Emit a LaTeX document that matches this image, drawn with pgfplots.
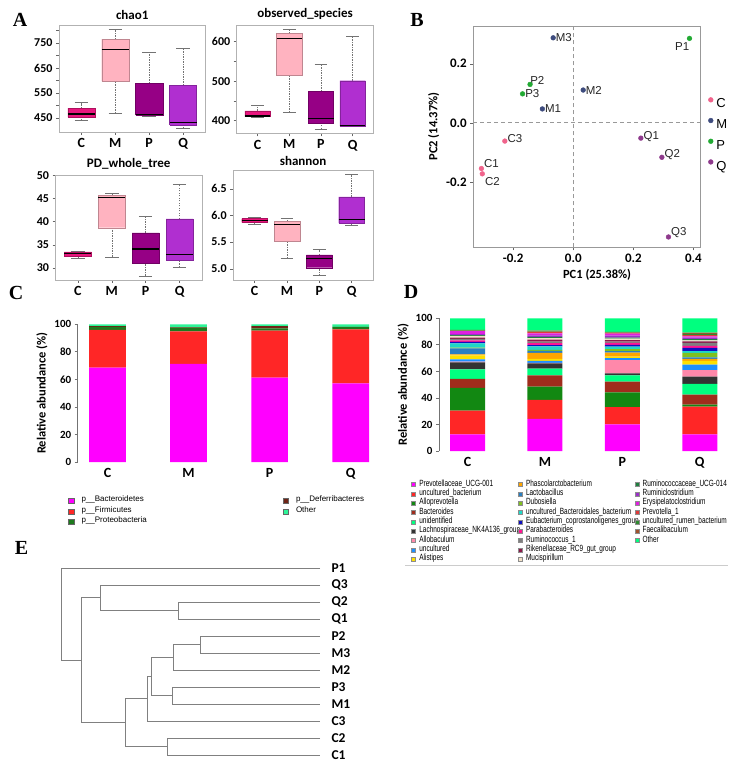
\documentclass[border=0pt]{standalone}
\usepackage{fontspec}
\setmainfont{Carlito}
\newfontfamily\arial{Liberation Sans}
\newfontfamily\tnr{Liberation Serif}
\usepackage{graphicx}
\usepackage{pgfplots}
\usepackage{pgfplotstable}
\pgfplotsset{compat=1.18}
\pgfplotsset{/pgf/number format/assume math mode=true}

% box plot colours (A)
\definecolor{cC}{HTML}{E8167E}
\definecolor{cM}{HTML}{FFB3C0}
\definecolor{cP}{HTML}{960085}
\definecolor{cQ}{HTML}{B02FD0}
% PCoA colours (B)
\definecolor{bC}{HTML}{F0648C}
\definecolor{bM}{HTML}{3E4C7E}
\definecolor{bP}{HTML}{22AA33}
\definecolor{bQ}{HTML}{8E3A8C}
% phylum colours (C)
\definecolor{p1}{HTML}{FF00FF}
\definecolor{p2}{HTML}{FF2626}
\definecolor{p3}{HTML}{1D7A1D}
\definecolor{p4}{HTML}{6E2416}
\definecolor{p5}{HTML}{2EF598}
% genus colours (D)
\definecolor{d1}{HTML}{FF00FF}
\definecolor{d2}{HTML}{FF2626}
\definecolor{d3}{HTML}{128812}
\definecolor{d4}{HTML}{A02C1C}
\definecolor{d5}{HTML}{00FF80}
\definecolor{d6}{HTML}{333333}
\definecolor{d7}{HTML}{FF88AA}
\definecolor{d8}{HTML}{1E90FF}
\definecolor{d9}{HTML}{FFE000}
\definecolor{d10}{HTML}{FFA500}
\definecolor{d11}{HTML}{2A7FC0}
\definecolor{d12}{HTML}{80C020}
\definecolor{d13}{HTML}{1ED8C8}
\definecolor{d14}{HTML}{1010C0}
\definecolor{d15}{HTML}{FF1493}
\definecolor{d16}{HTML}{7F7F7F}
\definecolor{d17}{HTML}{8B1A4A}
\definecolor{d18}{HTML}{F3E2C8}
\definecolor{d19}{HTML}{1F7F3F}
\definecolor{d20}{HTML}{9A30C8}
\definecolor{d21}{HTML}{E020E0}
\definecolor{d22}{HTML}{E03A3A}
\definecolor{d23}{HTML}{2E8B2E}
\definecolor{d24}{HTML}{A0522D}
\definecolor{d25}{HTML}{00FF7F}

% phylum level relative abundance (%)
\pgfplotstableread{
x Bac Fir Pro Def Oth
1 68.5 27.4 2.2 0.5 1.4
2 71.2 23.7 2.7 0.4 2.0
3 61.3 34.1 1.6 1.6 1.4
4 57.1 39.3 1.5 0.3 1.8
}\tabC

% genus level relative abundance (%)
\pgfplotstableread{
x g1 g2 g3 g4 g5 g6 g7 g8 g9 g10 g11 g12 g13 g14 g15 g16 g17 g18 g19 g20 g21 g22 g23 g24 g25
1 12.5 18.0 17.0 6.8 7.2 5.2 0.6 1.8 3.0 0.8 4.5 0.5 3.2 1.2 1.0 1.2 1.0 1.2 0.6 0.8 2.2 0.3 0.3 0.3 8.8
2 24.2 14.3 10.0 8.5 5.0 4.0 0.5 1.5 1.5 4.5 1.5 0.8 2.5 1.0 1.5 1.2 1.5 1.0 1.0 1.2 1.5 0.8 0.5 0.8 9.2
3 20.0 13.0 11.2 8.0 4.8 1.5 10.0 1.5 1.2 3.0 1.0 1.5 2.0 1.2 1.5 1.0 1.2 1.0 0.8 1.5 1.5 0.5 0.3 0.5 10.3
4 12.5 21.0 1.5 7.5 8.0 5.5 5.0 4.0 3.0 1.5 1.0 3.5 1.2 2.5 1.5 2.2 1.2 0.8 1.0 1.0 1.0 1.0 0.8 1.0 10.8
}\tabD

\pgfplotsset{
  abox/.style={
    scale only axis, anchor=south west,
    xmin=0.34, xmax=4.66, xtick={1,2,3,4}, xticklabels={C,M,P,Q},
    axis line style={black!30, line width=0.6pt},
    tick align=outside, tick pos=left,
    major tick length=3pt, minor tick length=3pt,
    every tick/.style={black!60, line width=0.5pt},
    xticklabel style={font=\bfseries\fontsize{14}{14}\selectfont},
    yticklabel style={font=\bfseries\fontsize{12}{12}\selectfont},
    title style={font=\bfseries\fontsize{13}{13}\selectfont, yshift=-4pt},
  },
  barax/.style={
    scale only axis, anchor=south west, ybar stacked,
    ymin=0, ymax=100, ytick={0,20,...,100},
    xtick={1,2,3,4}, xticklabels={C,M,P,Q},
    axis x line=bottom, axis y line=left, axis line style={-},
    x axis line style={draw=none}, y axis line style={black!55, line width=0.8pt},
    xtick style={draw=none}, ytick style={black!55, line width=0.8pt},
    tick align=outside, major tick length=3pt,
    xticklabel style={font=\bfseries\fontsize{14}{14}\selectfont},
    yticklabel style={font=\bfseries\fontsize{11}{11}\selectfont},
    ylabel={Relative abundance (\%)},
    ylabel style={font=\bfseries\fontsize{12.5}{12.5}\selectfont},
    clip=false,
  },
  legd/.style={
    hide axis, scale only axis, width=4pt, height=4pt,
    xmin=0, xmax=1, ymin=0, ymax=1, anchor=north west,
    legend cell align=left,
    legend style={at={(0,1)}, anchor=north west, draw=none, fill=none,
      inner sep=0pt, row sep=0pt,
      font=\arial\fontsize{9}{9}\selectfont,
      nodes={inner sep=0pt, text height=6.3pt, text depth=3.03pt},
      /tikz/every odd column/.append style={column sep=3.6pt}},
    legend image code/.code={\draw[##1, draw=black!45, line width=0.3pt] (0pt,-2.1pt) rectangle (4.2pt,2.1pt);},
  },
  legc/.style={
    hide axis, scale only axis, width=4pt, height=4pt,
    xmin=0, xmax=1, ymin=0, ymax=1, anchor=north west,
    legend cell align=left,
    legend style={at={(0,1)}, anchor=north west, draw=none, fill=none,
      inner sep=0pt, row sep=0pt,
      font=\arial\fontsize{8}{8}\selectfont,
      nodes={inner sep=0pt, text height=6pt, text depth=4.5pt},
      /tikz/every odd column/.append style={column sep=7.5pt}},
    legend image code/.code={\draw[##1, draw=black!60, line width=0.4pt] (0pt,-2.7pt) rectangle (5.4pt,2.7pt);},
  },
  whisk/.style={black!55, line width=0.5pt, dash pattern=on 1.4pt off 1.1pt},
}

% one box: colour, position, lower whisker, lower quartile, median, upper quartile, upper whisker
\newcommand{\bx}[7]{%
  \addplot[whisk] table[row sep=\\, x expr=\thisrowno{0}+#2] {0 #3\\ 0 #4\\};
  \addplot[whisk] table[row sep=\\, x expr=\thisrowno{0}+#2] {0 #6\\ 0 #7\\};
  \addplot[black!55, line width=0.5pt] table[row sep=\\, x expr=\thisrowno{0}+#2] {-0.2 #3\\ 0.2 #3\\};
  \addplot[black!55, line width=0.5pt] table[row sep=\\, x expr=\thisrowno{0}+#2] {-0.2 #7\\ 0.2 #7\\};
  \addplot[fill=#1, draw=#1!75!black, line width=0.4pt] table[row sep=\\, x expr=\thisrowno{0}+#2]
    {-0.4 #4\\ 0.4 #4\\ 0.4 #6\\ -0.4 #6\\ -0.4 #4\\};
  \addplot[black, line width=1.3pt] table[row sep=\\, x expr=\thisrowno{0}+#2] {-0.4 #5\\ 0.4 #5\\};
}

\begin{document}
\begin{tikzpicture}
\path[use as bounding box] (0pt,0pt) rectangle (740pt,-775pt);

% panel letters
\begin{scope}[every node/.style={font=\tnr\bfseries\fontsize{20}{20}\selectfont}]
\node at (20pt,-20pt) {A};
\node at (417pt,-20pt) {B};
\node at (16pt,-293pt) {C};
\node at (411pt,-292pt) {D};
\node at (21.5pt,-548pt) {E};
\end{scope}

% ---------------- A: alpha diversity ----------------
\begin{axis}[abox, at={(59pt,-132pt)}, width=146.5pt, height=107pt,
  ymin=394, ymax=822, ytick={450,550,650,750}, minor ytick={500,600,700,800},
  title={chao1}]
\bx{cC}{1}{439}{453}{466}{489}{511}
\bx{cM}{2}{469}{598}{725}{765}{805}
\bx{cP}{3}{455}{462}{465}{589}{713}
\bx{cQ}{4}{409}{422}{433}{581}{729}
\end{axis}

\begin{axis}[abox, at={(236.7pt,-133.3pt)}, width=136.8pt, height=108.3pt,
  ymin=368, ymax=642, ytick={400,500,600}, minor ytick={450,550},
  title={observed\_species}]
\bx{cC}{1}{408}{410}{412}{425}{440}
\bx{cM}{2}{421}{514}{607}{620}{630}
\bx{cP}{3}{379}{393}{406}{475}{543.5}
\bx{cQ}{4}{387}{387}{387.5}{501}{614}
\end{axis}

\begin{axis}[abox, at={(55.5pt,-280pt)}, width=146.5pt, height=105pt,
  ymin=27.4, ymax=50.1, ytick={30,35,40,45,50},
  title={PD\_whole\_tree}]
\bx{cC}{1}{32.2}{32.6}{33.1}{33.5}{33.7}
\bx{cM}{2}{32.4}{38.7}{45.2}{45.7}{46.2}
\bx{cP}{3}{28.3}{31.1}{34.1}{37.6}{41.1}
\bx{cQ}{4}{30.2}{31.6}{32.9}{40.6}{48.2}
\end{axis}

\begin{axis}[abox, at={(233.3pt,-280pt)}, width=139.7pt, height=109.3pt,
  ymin=4.79, ymax=6.84, ytick={5,5.5,6,6.5},
  yticklabel style={/pgf/number format/.cd, fixed, fixed zerofill, precision=1},
  title={shannon}]
\bx{cC}{1}{5.83}{5.87}{5.906}{5.94}{5.97}
\bx{cM}{2}{5.20}{5.51}{5.83}{5.895}{5.94}
\bx{cP}{3}{4.87}{5.02}{5.19}{5.26}{5.36}
\bx{cQ}{4}{5.81}{5.86}{5.92}{6.35}{6.78}
\end{axis}

% ---------------- B: PCoA ----------------
\begin{axis}[scale only axis, anchor=south west, at={(473.3pt,-247.3pt)},
  width=226.7pt, height=221.3pt,
  xmin=-0.333, xmax=0.422, ymin=-0.422, ymax=0.328,
  xtick={-0.2,0,0.2,0.4}, ytick={-0.2,0,0.2},
  axis line style={black!40, line width=0.8pt},
  tick align=outside, tick pos=left, major tick length=3pt,
  every tick/.style={black!60, line width=0.5pt},
  ticklabel style={font=\bfseries\fontsize{13}{13}\selectfont,
    /pgf/number format/.cd, fixed, fixed zerofill, precision=1},
  xlabel={PC1 (25.38\%)}, ylabel={PC2 (14.37\%)},
  label style={font=\bfseries\fontsize{12.5}{12.5}\selectfont},
  xlabel style={at={(ticklabel cs:0.546)}},
  ylabel style={at={(ticklabel cs:0.546)}},
  clip=false,
  legend style={at={(1.022,0.688)}, anchor=north west, draw=none, fill=none,
    font=\arial\fontsize{13}{13}\selectfont, row sep=10pt,
    nodes={inner sep=0pt, text height=9pt, text depth=0pt},
    /tikz/every odd column/.append style={column sep=3pt}},
  legend cell align=left,
  legend image code/.code={\fill[#1] (2.4pt,3.6pt) circle[radius=2.4pt];},
]
\addplot[forget plot, black!40, dash pattern=on 4pt off 3pt, line width=0.6pt] coordinates {(0,-0.422) (0,0.328)};
\addplot[forget plot, black!40, dash pattern=on 4pt off 3pt, line width=0.6pt] coordinates {(-0.333,0) (0.422,0)};
\addplot[only marks, mark=*, mark size=2.4pt, color=bC] coordinates {(-0.306,-0.155) (-0.303,-0.173) (-0.228,-0.062)};
\addlegendentry{C}
\addplot[only marks, mark=*, mark size=2.4pt, color=bM] coordinates {(-0.103,0.047) (0.033,0.111) (-0.067,0.288)};
\addlegendentry{M}
\addplot[only marks, mark=*, mark size=2.4pt, color=bP] coordinates {(0.387,0.286) (-0.144,0.130) (-0.169,0.098)};
\addlegendentry{P}
\addplot[only marks, mark=*, mark size=2.4pt, color=bQ] coordinates {(0.225,-0.052) (0.295,-0.117) (0.317,-0.387)};
\addlegendentry{Q}
\begin{scope}[every node/.style={font=\arial\fontsize{11.5}{11.5}\selectfont, text=black!85, inner sep=1pt}]
\node[anchor=west, xshift=1.5pt, yshift=5pt] at (axis cs:-0.306,-0.155) {C1};
\node[anchor=west, xshift=1.5pt, yshift=-8pt] at (axis cs:-0.303,-0.173) {C2};
\node[anchor=west, xshift=1.5pt, yshift=3pt] at (axis cs:-0.228,-0.062) {C3};
\node[anchor=west, xshift=1.5pt] at (axis cs:-0.103,0.047) {M1};
\node[anchor=west, xshift=1.5pt] at (axis cs:0.033,0.111) {M2};
\node[anchor=west, xshift=1.5pt] at (axis cs:-0.067,0.288) {M3};
\node[anchor=north east, xshift=1pt, yshift=-3pt] at (axis cs:0.387,0.286) {P1};
\node[anchor=south west, xshift=-1pt, yshift=-1pt] at (axis cs:-0.144,0.130) {P2};
\node[anchor=west, xshift=1.5pt] at (axis cs:-0.169,0.098) {P3};
\node[anchor=west, xshift=1.5pt, yshift=2pt] at (axis cs:0.225,-0.052) {Q1};
\node[anchor=west, xshift=1.5pt, yshift=3pt] at (axis cs:0.295,-0.117) {Q2};
\node[anchor=west, xshift=1.5pt, yshift=4pt] at (axis cs:0.317,-0.387) {Q3};
\end{scope}
\end{axis}

% ---------------- C: phylum composition ----------------
\begin{axis}[barax, at={(77.7pt,-462pt)}, width=297.3pt, height=137.7pt,
  xmin=0.633, xmax=4.3, bar width=36.7pt]
\addplot[fill=p1, draw=none] table[x=x, y=Bac] {\tabC};
\addplot[fill=p2, draw=none] table[x=x, y=Fir] {\tabC};
\addplot[fill=p3, draw=none] table[x=x, y=Pro] {\tabC};
\addplot[fill=p4, draw=none] table[x=x, y=Def] {\tabC};
\addplot[fill=p5, draw=none] table[x=x, y=Oth] {\tabC};
\end{axis}

\begin{axis}[legc, at={(68pt,-495.5pt)}]
\addlegendimage{fill=p1} \addlegendentry{p\_\_Bacteroidetes}
\addlegendimage{fill=p2} \addlegendentry{p\_\_Firmicutes}
\addlegendimage{fill=p3} \addlegendentry{p\_\_Proteobacteria}
\end{axis}
\begin{axis}[legc, at={(282.5pt,-495.5pt)}]
\addlegendimage{fill=p4} \addlegendentry{p\_\_Deferribacteres}
\addlegendimage{fill=p5} \addlegendentry{Other}
\end{axis}

% ---------------- D: genus composition ----------------
\begin{axis}[barax, at={(439pt,-451pt)}, width=284pt, height=132.7pt,
  xmin=0.632, xmax=4.3, bar width=35pt]
\pgfplotsinvokeforeach{1,...,25}{
  \addplot[fill=d#1, draw=none] table[x=x, y=g#1] {\tabD};
}
\end{axis}

\newcommand{\lt}[1]{\scalebox{0.72}[1]{#1}}
\begin{axis}[legd, at={(411pt,-479.6pt)}]
\addlegendimage{fill=d1} \addlegendentry{\lt{Prevotellaceae\_UCG-001}}
\addlegendimage{fill=d2} \addlegendentry{\lt{uncultured\_bacterium}}
\addlegendimage{fill=d3} \addlegendentry{\lt{Alloprevotella}}
\addlegendimage{fill=d4} \addlegendentry{\lt{Bacteroides}}
\addlegendimage{fill=d5} \addlegendentry{\lt{unidentified}}
\addlegendimage{fill=d6} \addlegendentry{\lt{Lachnospiraceae\_NK4A136\_group}}
\addlegendimage{fill=d7} \addlegendentry{\lt{Allobaculum}}
\addlegendimage{fill=d8} \addlegendentry{\lt{uncultured}}
\addlegendimage{fill=d9} \addlegendentry{\lt{Alistipes}}
\end{axis}
\begin{axis}[legd, at={(517.7pt,-479.6pt)}]
\addlegendimage{fill=d10} \addlegendentry{\lt{Phascolarctobacterium}}
\addlegendimage{fill=d11} \addlegendentry{\lt{Lactobacillus}}
\addlegendimage{fill=d12} \addlegendentry{\lt{Dubosiella}}
\addlegendimage{fill=d13} \addlegendentry{\lt{uncultured\_Bacteroidales\_bacterium}}
\addlegendimage{fill=d14} \addlegendentry{\lt{Eubacterium\_coprostanoligenes\_group}}
\addlegendimage{fill=d15} \addlegendentry{\lt{Parabacteroides}}
\addlegendimage{fill=d16} \addlegendentry{\lt{Ruminococcus\_1}}
\addlegendimage{fill=d17} \addlegendentry{\lt{Rikenellaceae\_RC9\_gut\_group}}
\addlegendimage{fill=d18} \addlegendentry{\lt{Mucispirillum}}
\end{axis}
\begin{axis}[legd, at={(634.3pt,-479.6pt)}]
\addlegendimage{fill=d19} \addlegendentry{\lt{Ruminococcaceae\_UCG-014}}
\addlegendimage{fill=d20} \addlegendentry{\lt{Ruminiclostridium}}
\addlegendimage{fill=d21} \addlegendentry{\lt{Erysipelatoclostridium}}
\addlegendimage{fill=d22} \addlegendentry{\lt{Prevotella\_1}}
\addlegendimage{fill=d23} \addlegendentry{\lt{uncultured\_rumen\_bacterium}}
\addlegendimage{fill=d24} \addlegendentry{\lt{Faecalibaculum}}
\addlegendimage{fill=d25} \addlegendentry{\lt{Other}}
\end{axis}
\draw[black!20, line width=0.6pt] (405pt,-565pt) -- (728pt,-565pt);

% ---------------- E: clustering tree ----------------
\begin{axis}[scale only axis, anchor=north west, at={(0pt,-568pt)},
  width=320pt, height=187pt, xmin=0, xmax=320, ymin=1, ymax=12, y dir=reverse,
  axis line style={draw=none}, tick style={draw=none}, xtick=\empty,
  ytick={1,...,12}, yticklabels={P1,Q3,Q2,Q1,P2,M3,M2,P3,M1,C3,C2,C1},
  yticklabel pos=right, major tick length=0pt,
  yticklabel style={font=\bfseries\fontsize{13.5}{13.5}\selectfont, anchor=west, xshift=8pt},
  clip=false, unbounded coords=jump]
\addplot[black!50, line width=0.9pt] coordinates {
  (320,3) (178.4,3) (178.4,4) (320,4) (nan,nan)
  (320,2) (100.7,2) (100.7,3.5) (178.4,3.5) (nan,nan)
  (320,5) (200.7,5) (200.7,6) (320,6) (nan,nan)
  (200.7,5.5) (173.1,5.5) (173.1,7) (320,7) (nan,nan)
  (320,8) (172.4,8) (172.4,9) (320,9) (nan,nan)
  (173.1,6.25) (151.2,6.25) (151.2,8.5) (172.4,8.5) (nan,nan)
  (151.2,7.375) (147,7.375) (147,10) (320,10) (nan,nan)
  (320,11) (167.8,11) (167.8,12) (320,12) (nan,nan)
  (147,8.6875) (125.4,8.6875) (125.4,11.5) (167.8,11.5) (nan,nan)
  (100.7,2.75) (81.3,2.75) (81.3,10.09375) (125.4,10.09375) (nan,nan)
  (320,1) (61.8,1) (61.8,6.421875) (81.3,6.421875)
};
\end{axis}
\end{tikzpicture}
\end{document}
